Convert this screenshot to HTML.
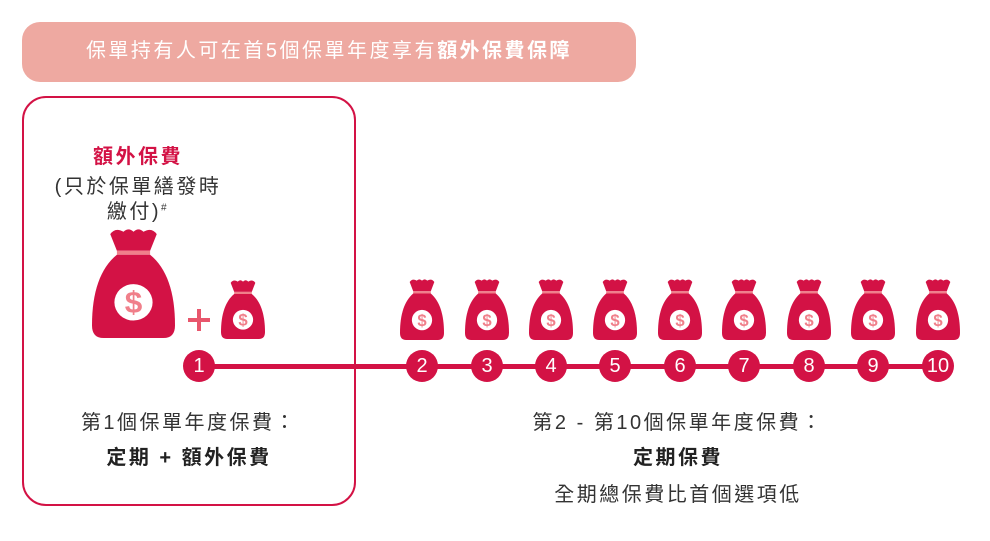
<!DOCTYPE html>
<html><head><meta charset="utf-8"><style>
body{margin:0;width:990px;height:541px;background:#fff;position:relative;overflow:hidden;font-family:"Liberation Sans","Noto Sans CJK TC",sans-serif;color:#333}
.banner{position:absolute;left:22px;top:22px;width:614px;height:60px;border-radius:18px;background:#eea9a1;color:#fff;font-size:20px;letter-spacing:2.5px;line-height:58px;text-align:center}
.box{position:absolute;left:22px;top:96px;width:330px;height:406px;border:2px solid #d31245;border-radius:24px}
.t{position:absolute;text-align:center;white-space:nowrap;font-size:20px;letter-spacing:2.5px}
.line{position:absolute;left:199px;top:364px;width:740px;height:5px;background:#d31245}
.c{position:absolute;width:32px;height:32px;border-radius:50%;background:#d31245;color:#fff;font-size:20px;line-height:32px;text-align:center;top:350px}
svg.bag{position:absolute}
</style></head><body>
<svg width="0" height="0" style="position:absolute"><defs>
<symbol id="b" viewBox="0 0 100 140" preserveAspectRatio="none">
<path d="M30 30 L22 9 Q28 0 38 6 Q44 0 50 6 Q56 0 62 6 Q72 0 78 9 L70 30 Z" fill="#d31245"/>
<path d="M30 30 L70 30 L70 35 L30 35Z" fill="#f07f8a"/>
<path d="M30 35 L70 35 C90 52 100 82 100 124 Q100 140 86 140 L14 140 Q0 140 0 124 C0 82 10 52 30 35 Z" fill="#d31245"/>
<circle cx="50" cy="95" r="23" fill="#fff"/>
<text x="50" y="108" text-anchor="middle" font-family="Liberation Sans" font-weight="bold" font-size="38" fill="#f07f8a">$</text>
</symbol></defs></svg>
<div class="banner">保單持有人可在首5個保單年度享有<b>額外保費保障</b></div>
<div class="box"></div>
<div class="t" style="left:38px;width:200px;top:140px;color:#d31245;font-weight:bold">額外保費</div>
<div class="t" style="left:38px;width:200px;top:170px">(只於保單繕發時</div>
<div class="t" style="left:38px;width:200px;top:195px">繳付)<sup style="font-size:10px">#</sup></div>
<svg class="bag" style="left:92px;top:227px" width="83" height="111"><use href="#b"/></svg>
<div style="position:absolute;left:188px;top:318px;width:22px;height:4px;background:#e8566c"></div>
<div style="position:absolute;left:197px;top:309px;width:4px;height:22px;background:#e8566c"></div>
<svg class="bag" style="left:221px;top:279px" width="44" height="60"><use href="#b"/></svg>
<div class="line"></div>
<div class="c" style="left:183px">1</div>
<div class="c" style="left:406px">2</div>
<div class="c" style="left:471px">3</div>
<div class="c" style="left:535px">4</div>
<div class="c" style="left:599px">5</div>
<div class="c" style="left:664px">6</div>
<div class="c" style="left:728px">7</div>
<div class="c" style="left:793px">8</div>
<div class="c" style="left:857px">9</div>
<div class="c" style="left:922px">10</div>
<svg class="bag" style="left:400px;top:278px" width="44" height="62"><use href="#b"/></svg>
<svg class="bag" style="left:465px;top:278px" width="44" height="62"><use href="#b"/></svg>
<svg class="bag" style="left:529px;top:278px" width="44" height="62"><use href="#b"/></svg>
<svg class="bag" style="left:593px;top:278px" width="44" height="62"><use href="#b"/></svg>
<svg class="bag" style="left:658px;top:278px" width="44" height="62"><use href="#b"/></svg>
<svg class="bag" style="left:722px;top:278px" width="44" height="62"><use href="#b"/></svg>
<svg class="bag" style="left:787px;top:278px" width="44" height="62"><use href="#b"/></svg>
<svg class="bag" style="left:851px;top:278px" width="44" height="62"><use href="#b"/></svg>
<svg class="bag" style="left:916px;top:278px" width="44" height="62"><use href="#b"/></svg>
<div class="t" style="left:39px;width:300px;top:406px">第1個保單年度保費：</div>
<div class="t" style="left:39px;width:300px;top:441px;font-weight:bold;color:#222">定期 + 額外保費</div>
<div class="t" style="left:528px;width:300px;top:406px">第2 - 第10個保單年度保費：</div>
<div class="t" style="left:528px;width:300px;top:441px;font-weight:bold;color:#222">定期保費</div>
<div class="t" style="left:528px;width:300px;top:478px">全期總保費比首個選項低</div>
</body></html>
